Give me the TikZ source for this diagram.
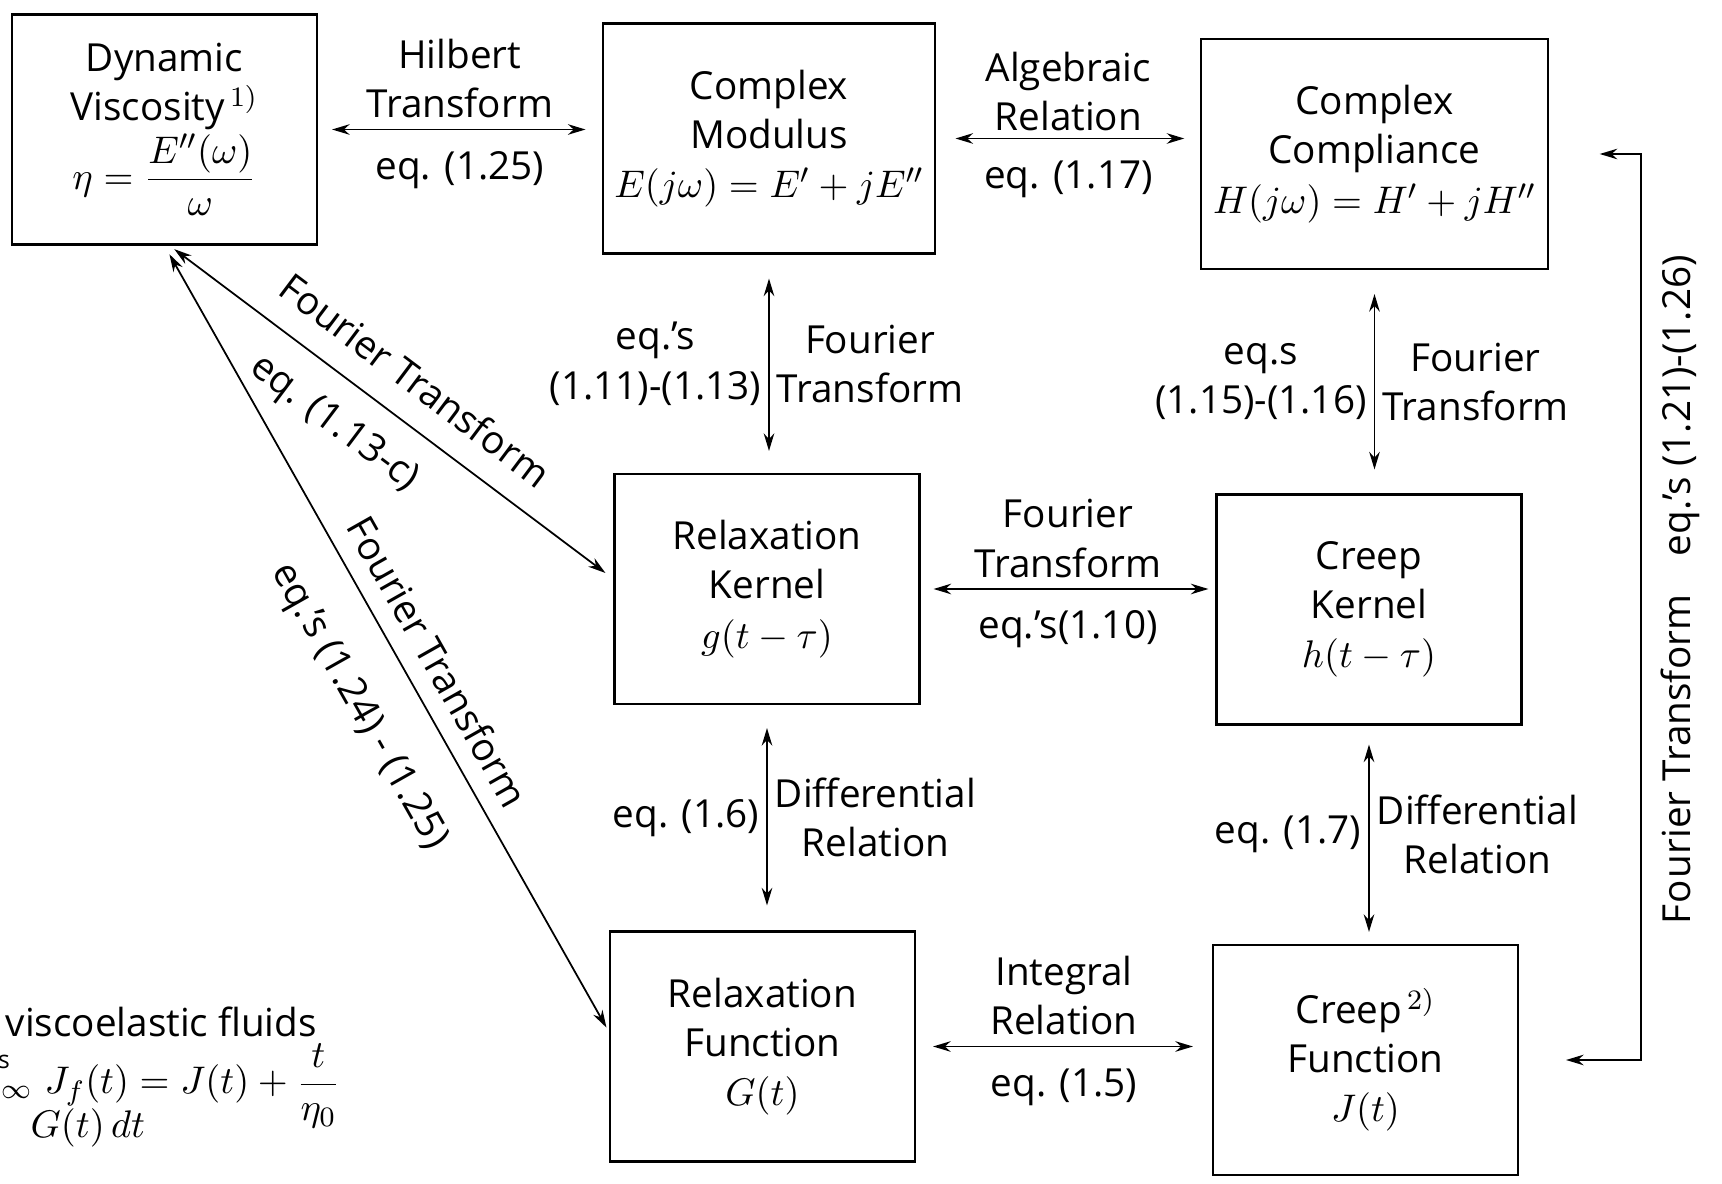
\documentclass[tikz,border=0pt]{standalone}
\usepackage{amsmath}
\usepackage{fontspec}
\setmainfont{Open Sans}
\usepackage{tikz}
\usetikzlibrary{arrows.meta,positioning}

\begin{document}
\begin{tikzpicture}[
  font=\fontsize{11}{14}\selectfont,
  box/.style={draw, line width=0.6pt, align=center,
              minimum width=3.05cm, minimum height=2.3cm},
  rel/.style={{Stealth[length=5pt,width=3pt]}-{Stealth[length=5pt,width=3pt]},
              line width=0.5pt},
  lbl/.style={align=center, inner sep=2pt}]
\useasboundingbox (0,0) rectangle (17.22,-11.84);
\node[box] (visc) at (1.645,-1.295) {Dynamic\\Viscosity$^{\,1)}$\\
  $\eta=\dfrac{E''(\omega)}{\omega}$};
\node[box] (mod) at (7.69,-1.385) {Complex\\Modulus\\
  $E(j\omega)=E'+jE''$};
\node[box] (comp) at (13.745,-1.54) {Complex\\Compliance\\
  $H(j\omega)=H'+jH''$};
\node[box] (relk) at (7.67,-5.89) {Relaxation\\Kernel\\$g(t-\tau)$};
\node[box] (crk) at (13.69,-6.095) {Creep\\Kernel\\$h(t-\tau)$};
\node[box] (relf) at (7.625,-10.465) {Relaxation\\Function\\$G(t)$};
\node[box] (crf) at (13.655,-10.60) {Creep$^{\,2)}$\\Function\\$J(t)$};
\draw[rel, shorten <=1.4mm, shorten >=1.6mm] (visc.east) -- (visc.east -| mod.west)
  node[lbl, midway, above=1pt] {Hilbert\\Transform}
  node[lbl, midway, below=4pt] {eq. (1.25)};
\draw[rel, shorten <=1.9mm, shorten >=1.6mm] (mod.east) -- (mod.east -| comp.west)
  node[lbl, midway, above=0pt] {Algebraic\\Relation}
  node[lbl, midway, below=4pt] {eq. (1.17)};
\draw[rel, shorten <=1.3mm, shorten >=0.7mm] (relk.east) -- (relk.east -| crk.west)
  node[lbl, midway, above=1pt] {Fourier\\Transform}
  node[lbl, midway, below=4pt] {eq.'s(1.10)};
\draw[rel, shorten <=1.7mm, shorten >=1.9mm] (relf.east) -- (relf.east -| crf.west)
  node[lbl, midway, above=1pt] {Integral\\Relation}
  node[lbl, midway, below=4pt] {eq. (1.5)};
\draw[rel, shorten <=2.4mm, shorten >=2.2mm] (mod.south) -- (mod.south |- relk.north)
  node[lbl, midway, left] {eq.'s\\(1.11)-(1.13)}
  node[lbl, midway, right] {Fourier\\Transform};
\draw[rel, shorten <=2.4mm, shorten >=2.4mm] (comp.south) -- (comp.south |- crk.north)
  node[lbl, midway, left] {eq.s\\(1.15)-(1.16)}
  node[lbl, midway, right] {Fourier\\Transform};
\draw[rel, shorten <=2.3mm, shorten >=2.5mm] (relk.south) -- (relk.south |- relf.north)
  node[lbl, midway, left] {eq. (1.6)}
  node[lbl, midway, right] {Differential\\Relation};
\draw[rel, shorten <=1.9mm, shorten >=1.2mm] (crk.south) -- (crk.south |- crf.north)
  node[lbl, midway, left] {eq. (1.7)}
  node[lbl, midway, right] {Differential\\Relation};
\draw[rel, shorten <=0.6mm, shorten >=1mm] ([xshift=0.5mm]visc.south) -- ([yshift=1mm]relk.west)
  node[lbl, pos=0.5, above=5pt, sloped] {Fourier Transform}
  node[lbl, pos=0.43, below=5pt, sloped] {eq. (1.13-c)};
\draw[rel, shorten <=1mm, shorten >=0.5mm] (visc.south) -- ([yshift=1.45mm]relf.west)
  node[lbl, pos=0.55, above=3pt, sloped] {Fourier Transform}
  node[lbl, pos=0.55, below=9pt, sloped] {eq.'s (1.24) - (1.25)};
\draw[rel] ([xshift=5.1mm]comp.east) -- ++(0.41,0) |- ([xshift=4.7mm]crf.east);
\node[rotate=90] (ftlbl) at (16.80,-5.9)
  {F\kern.5pt o\kern.5pt urier Transform\quad eq.'s (1.21)-(1.26)};
\node[anchor=west, inner sep=0] (fluids) at (0.05,-10.22) {viscoelastic fluids};
\node[anchor=west, inner sep=0] (jf) at (0.44,-10.86) {$J_f(t)=J(t)+\dfrac{t}{\eta_0}$};
\node[anchor=west, inner sep=0] (gdt) at (0.30,-11.28) {$G(t)\,dt$};
\node[inner sep=0] (frag) at (0.04,-10.62) {\scriptsize s};
\node[inner sep=0] (frag2) at (0.16,-10.92) {$\scriptstyle\infty$};
\end{tikzpicture}
\end{document}
